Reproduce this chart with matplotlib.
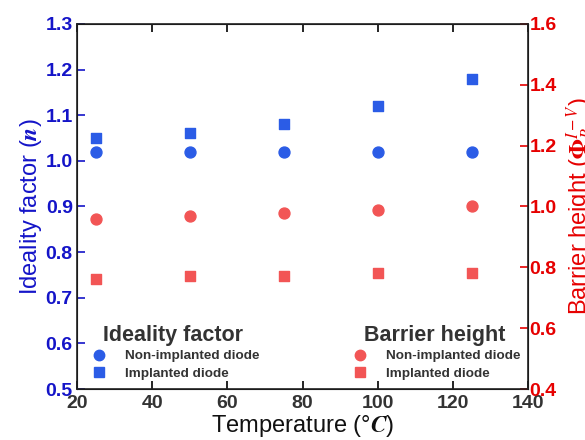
import matplotlib
matplotlib.use("Agg")
import matplotlib.pyplot as plt
from matplotlib.lines import Line2D

plt.rcParams['font.family'] = ['Liberation Sans', 'DejaVu Sans']
plt.rcParams['mathtext.fontset'] = 'stix'

temps = [25, 50, 75, 100, 125]
n_non = [1.02, 1.02, 1.02, 1.02, 1.02]
n_imp = [1.05, 1.06, 1.08, 1.12, 1.18]
phi_non = [0.96, 0.97, 0.98, 0.99, 1.00]
phi_imp = [0.76, 0.77, 0.77, 0.78, 0.78]

xticks = [20, 40, 60, 80, 100, 120, 140]
yticks_left = [0.5, 0.6, 0.7, 0.8, 0.9, 1.0, 1.1, 1.2, 1.3]
yticks_right = [0.4, 0.6, 0.8, 1.0, 1.2, 1.4, 1.6]

blue = '#2b5ce6'
red = '#f25555'
dark = '#333333'
lblue = '#1414c8'
lred = '#e60000'

fig = plt.figure(figsize=(5.85, 4.40), dpi=100)
ax = fig.add_axes([0.1316, 0.1159, 0.7710, 0.8296])
ax2 = ax.twinx()

ax.scatter(temps, n_non, s=62, marker='o', color=blue, zorder=3)
ax.scatter(temps, n_imp, s=62, marker='s', color=blue, zorder=3)
ax2.scatter(temps, phi_non, s=62, marker='o', color=red, zorder=3)
ax2.scatter(temps, phi_imp, s=62, marker='s', color=red, zorder=3)

ax.set_xlim(20, 140)
ax.set_ylim(0.5, 1.3)
ax2.set_ylim(0.4, 1.6)
ax.set_xticks(xticks)
ax.set_xticklabels([str(t) for t in xticks])
ax.set_yticks(yticks_left)
ax.set_yticklabels([f'{v:.1f}' for v in yticks_left])
ax2.set_yticks(yticks_right)
ax2.set_yticklabels([f'{v:.1f}' for v in yticks_right])

ax.tick_params(axis='x', direction='in', top=True, length=6, width=1.2,
               labelsize=14, labelcolor=dark, pad=4)
ax.tick_params(axis='y', direction='in', length=6, width=1.2, color=lblue,
               labelsize=14, labelcolor=lblue, pad=3)
ax2.tick_params(axis='y', direction='in', length=6, width=1.2, color=lred,
                labelsize=14, labelcolor=lred, pad=1)
for lab in ax.get_xticklabels() + ax.get_yticklabels() + ax2.get_yticklabels():
    lab.set_fontweight('bold')
for sp in ax2.spines.values():
    sp.set_color('#222222')
    sp.set_linewidth(1.2)

ax.set_xlabel('Temperature (°$\\boldsymbol{C}$)', fontsize=17, color='#111111', labelpad=1)
ax.set_ylabel(r'Ideality factor ($\boldsymbol{n}$)', fontsize=17, color=lblue, labelpad=1)
ax2.set_ylabel(r'Barrier height ($\mathbf{\Phi}_{B}^{I-V}$)', fontsize=17, color=lred, labelpad=6)

h1 = [Line2D([], [], ls='none', marker='o', ms=7.5, color=blue),
      Line2D([], [], ls='none', marker='s', ms=7.5, color=blue)]
h2 = [Line2D([], [], ls='none', marker='o', ms=7.5, color=red),
      Line2D([], [], ls='none', marker='s', ms=7.5, color=red)]
labels = ['Non-implanted diode', 'Implanted diode']

common = dict(loc='upper left', frameon=False, prop={'weight': 'bold', 'size': 9.7},
              handlelength=1.0, handletextpad=1.43, labelspacing=0.4,
              borderpad=0, borderaxespad=0)

leg1 = ax.legend(h1, labels, bbox_to_anchor=(0.0338, 0.107), **common)
for t in leg1.get_texts():
    t.set_color(dark)
ax.add_artist(leg1)
leg2 = ax.legend(h2, labels, bbox_to_anchor=(0.6125, 0.107), **common)
for t in leg2.get_texts():
    t.set_color(dark)

ax.text(0.0576, 0.1315, 'Ideality factor', transform=ax.transAxes, fontsize=15.5,
        fontweight='bold', color=dark, va='baseline', ha='left')
ax.text(0.636, 0.1315, 'Barrier height', transform=ax.transAxes, fontsize=15.5,
        fontweight='bold', color=dark, va='baseline', ha='left')

fig.savefig('out.png', dpi=100)
